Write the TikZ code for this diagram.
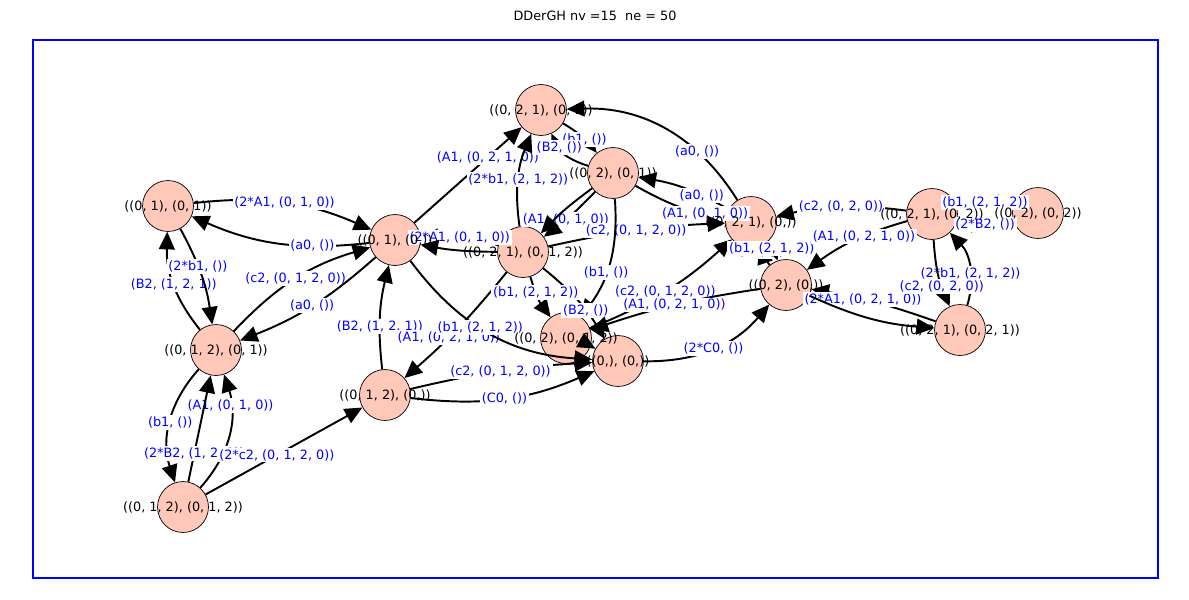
\documentclass[tikz,border=0pt]{standalone}
\usepackage{fontspec}
\setmainfont{DejaVu Sans}
\usetikzlibrary{arrows.meta}
\begin{document}
\begin{tikzpicture}[x=0.02cm,y=-0.02cm,
  v/.style={circle,draw=black,fill={rgb,255:red,255;green,200;blue,184},minimum size=29pt,inner sep=0pt},
  vl/.style={font=\fontsize{7.3}{8}\selectfont,text=black},
  e/.style={-{Triangle[length=10pt,width=9pt]},line width=1.1pt,shorten >=0pt},
  lab/.style={font=\fontsize{7.3}{8}\selectfont,text=blue,fill=white,inner sep=1pt,midway}]
\useasboundingbox (0,0) rectangle (1189,599);
\node[font=\fontsize{7.3}{8}\selectfont] (title) at (595,16) {DDerGH nv =15\ \ ne = 50};
\draw[blue,line width=0.6pt] (33,40) rectangle (1158,578);
\node[v] (A) at (168,206) {};
\node[v] (B) at (395,240) {};
\node[v] (C) at (541,110) {};
\node[v] (D) at (613,173) {};
\node[v] (E) at (523,252) {};
\node[v] (F) at (751,222) {};
\node[v] (G) at (786,285) {};
\node[v] (H) at (932,214) {};
\node[v] (I) at (1038,213) {};
\node[v] (J) at (960,330) {};
\node[v] (K) at (216,350) {};
\node[v] (L) at (385,395) {};
\node[v] (M) at (566,338) {};
\node[v] (N) at (618,361) {};
\node[v] (O) at (183,507) {};
% edges
\draw[e] (A) to[bend left=15] node[lab]{(2*A1, (0, 1, 0))} (B);
\draw[e] (K) to[bend left=20] node[lab]{(B2, (1, 2, 1))} (A);
\draw[e] (A) to[bend left=10] node[lab,pos=0.4]{(2*b1, ())} (K);
\draw[e] (B) to[bend left=15] node[lab,pos=0.3]{(a0, ())} (A);
\draw[e] (K) to[bend left=15] node[lab]{(c2, (0, 1, 2, 0))} (B);
\draw[e] (B) to[bend left=10] node[lab]{(a0, ())} (K);
\draw[e] (L) to[bend left=10] node[lab,pos=0.4]{(B2, (1, 2, 1))} (B);
\draw[e] (K) to[bend right=30] node[lab,pos=0.5]{(b1, ())} (O);
\draw[e] (O) to[bend right=30] node[lab,pos=0.75]{(A1, (0, 1, 0))} (K);
\draw[e] (O) to[bend left=0] node[lab,pos=0.25]{(2*B2, (1, 2, 1))} (K);
\draw[e] (O) to[bend left=0] node[lab,pos=0.45]{(2*c2, (0, 1, 2, 0))} (L);
\draw[e] (L) to[bend left=5] node[lab]{(c2, (0, 1, 2, 0))} (N);
\draw[e] (L) to[bend right=15] node[lab]{(C0, ())} (N);
\draw[e] (E) to[bend left=5] node[lab,pos=0.6]{(A1, (0, 2, 1, 0))} (L);
\draw[e] (B) to[bend left=0] node[lab,pos=0.7]{(A1, (0, 2, 1, 0))} (C);
\draw[e] (E) to[bend right=10] node[lab]{(2*A1, (0, 1, 0))} (B);
\draw[e] (E) to[bend left=5] (B);
\draw[e] (B) to[bend right=25] node[lab,pos=0.45]{(b1, (2, 1, 2))} (N);
\draw[e] (E) to[bend left=15] node[lab]{(2*b1, (2, 1, 2))} (C);
\draw[e] (C) to[bend left=10] node[lab,pos=0.6]{(b1, ())} (D);
\draw[e] (D) to[bend left=5] node[lab,pos=0.6]{(A1, (0, 1, 0))} (E);
\draw[e] (D) to[bend right=5] (E);
\draw[e] (F) to[bend right=30] node[lab,pos=0.3]{(a0, ())} (C);
\draw[e] (D) to[bend left=25] node[lab,pos=0.7]{(B2, ())} (C);
\draw[e] (F) to[bend right=10] node[lab,pos=0.3]{(a0, ())} (D);
\draw[e] (D) to[bend right=10] node[lab,pos=0.8]{(A1, (0, 1, 0))} (F);
\draw[e] (E) to[bend left=5] node[lab]{(c2, (0, 1, 2, 0))} (F);
\draw[e] (D) to[bend left=20] node[lab,pos=0.6]{(b1, ())} (M);
\draw[e] (E) to[bend left=10] node[lab,pos=0.65]{(B2, ())} (N);
\draw[e] (E) to[bend right=10] node[lab,pos=0.35]{(b1, (2, 1, 2))} (M);
\draw[e] (M) to[bend right=10] node[lab]{(c2, (0, 1, 2, 0))} (F);
\draw[e] (G) to[bend right=5] node[lab]{(A1, (0, 2, 1, 0))} (M);
\draw[e] (M) to[bend left=5] (N);
\draw[e] (N) to[bend right=25] node[lab,pos=0.5]{(2*C0, ())} (G);
\draw[e] (H) to[bend right=10] node[lab]{(c2, (0, 2, 0))} (F);
\draw[e] (G) to[bend left=10] node[lab,pos=0.75]{(B2, ())} (F);
\draw[e] (F) to[bend left=10] node[lab,pos=0.35]{(b1, (2, 1, 2))} (G);
\draw[e] (H) to[bend right=10] node[lab,pos=0.4]{(A1, (0, 2, 1, 0))} (G);
\draw[e] (J) to[bend right=5] node[lab,pos=0.6]{(2*A1, (0, 2, 1, 0))} (G);
\draw[e] (G) to[bend right=10] (J);
\draw[e] (H) to[bend left=15] node[lab]{(b1, (2, 1, 2))} (I);
\draw[e] (I) to[bend left=15] node[lab]{(2*B2, ())} (H);
\draw[e] (J) to[bend right=30] node[lab,pos=0.4]{(2*b1, (2, 1, 2))} (H);
\draw[e] (H) to[bend right=10] node[lab,pos=0.7]{(c2, (0, 2, 0))} (J);
% vertex labels
\node[vl] at (A) {((0, 1), (0, 1))};
\node[vl] at (B) {((0, 1), (0,))};
\node[vl] at (C) {((0, 2, 1), (0, 1))};
\node[vl] at (D) {((0, 2), (0, 1))};
\node[vl] at (E) {((0, 2, 1), (0, 1, 2))};
\node[vl] at (F) {((0, 2, 1), (0,))};
\node[vl] at (G) {((0, 2), (0,))};
\node[vl] at (H) {((0, 2, 1), (0, 2))};
\node[vl] at (I) {((0, 2), (0, 2))};
\node[vl] at (J) {((0, 2, 1), (0, 2, 1))};
\node[vl] at (K) {((0, 1, 2), (0, 1))};
\node[vl] at (L) {((0, 1, 2), (0,))};
\node[vl] at (M) {((0, 2), (0, 1, 2))};
\node[vl] at (N) {((0,), (0,))};
\node[vl] at (O) {((0, 1, 2), (0, 1, 2))};
\end{tikzpicture}
\end{document}
